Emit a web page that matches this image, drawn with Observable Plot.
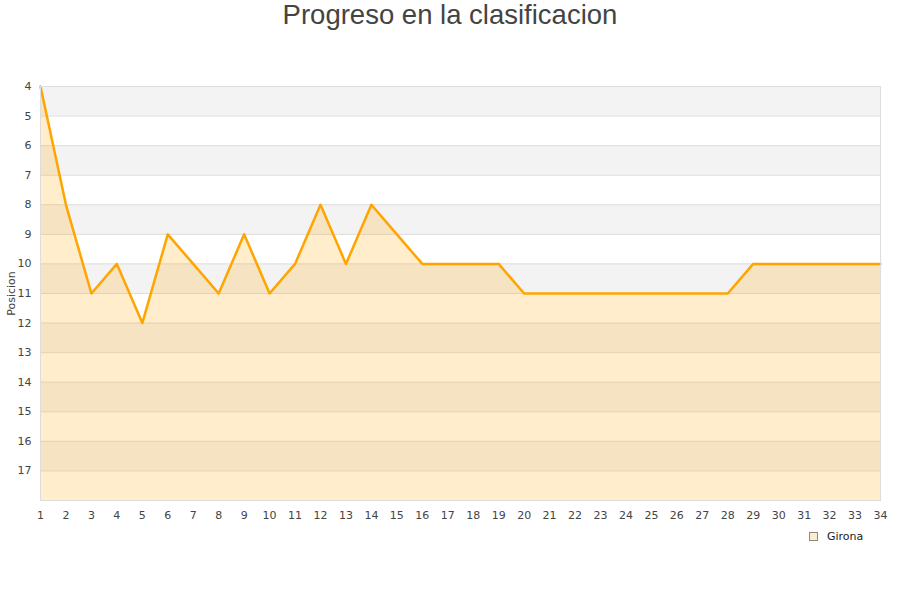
<!DOCTYPE html>
<html><head><meta charset="utf-8">
<script src="https://cdn.jsdelivr.net/npm/d3@7"></script>
<script src="https://cdn.jsdelivr.net/npm/@observablehq/plot@0.6"></script>
<style>
body{margin:0;background:#fff;}
#wrap{position:relative;width:900px;height:600px;}
#title{position:absolute;left:0;top:-1px;width:900px;text-align:center;font-family:"Liberation Sans",Arial,sans-serif;font-size:27.5px;color:#444;line-height:32px;}
#legend{position:absolute;left:809px;top:530px;font-family:"DejaVu Sans",sans-serif;font-size:11px;color:#222;display:flex;align-items:center;}
#legend span.sw{display:inline-block;width:7px;height:7px;border:1px solid #888;background:#ffeccc;margin-right:9px;}
</style>
</head><body>
<div id="wrap">
<div id="title">Progreso en la clasificacion</div>
<div id="chart"></div>
<div id="legend"><span class="sw"></span>Girona</div>
</div>
<script>
const jornadas = d3.range(1, 35);
const posiciones = [4,8,11,10,12,9,10,11,9,11,10,8,10,8,9,10,10,10,10,11,11,11,11,11,11,11,11,11,10,10,10,10,10,10];
const yTicks = d3.range(4, 18);
const bandStarts = [4,6,8,10,12,14,16];
const seriesName = "Girona";
const yLabel = "Posicion";

const data = jornadas.map((j, i) => ({jornada: j, pos: posiciones[i]}));

const chart = Plot.plot({
  width: 900,
  height: 600,
  marginTop: 86,
  marginLeft: 40,
  marginRight: 20,
  marginBottom: 100,
  style: {fontFamily: "'DejaVu Sans', sans-serif", fontSize: "11px", color: "#444", background: "transparent"},
  x: {domain: [1, 34]},
  y: {domain: [4, 18], reverse: true},
  marks: [
    Plot.rect(bandStarts, {y1: d => d, y2: d => d + 1, fill: "#f3f3f3"}),
    Plot.ruleY(d3.range(4, 19), {stroke: "#dddddd"}),
    Plot.areaY(data, {x: "jornada", y1: 18, y2: "pos", fill: "#ffa500", fillOpacity: 0.2}),
    Plot.line(data, {x: "jornada", y: "pos", stroke: "#ffa500", strokeWidth: 2.5}),
    Plot.frame({stroke: "#dddddd"}),
    Plot.axisX({ticks: jornadas, tickFormat: d => d, tickSize: 0, tickPadding: 11, label: null, fill: "#444"}),
    Plot.axisY({ticks: yTicks, tickFormat: d => d, tickSize: 0, tickPadding: 9, label: null, fill: "#444"}),
    Plot.text([yLabel], {frameAnchor: "left", textAnchor: "middle", dx: -29, rotate: -90, text: d => d, fill: "#444", fontSize: 11})
  ]
});
document.getElementById("chart").appendChild(chart);
</script>
</body></html>
